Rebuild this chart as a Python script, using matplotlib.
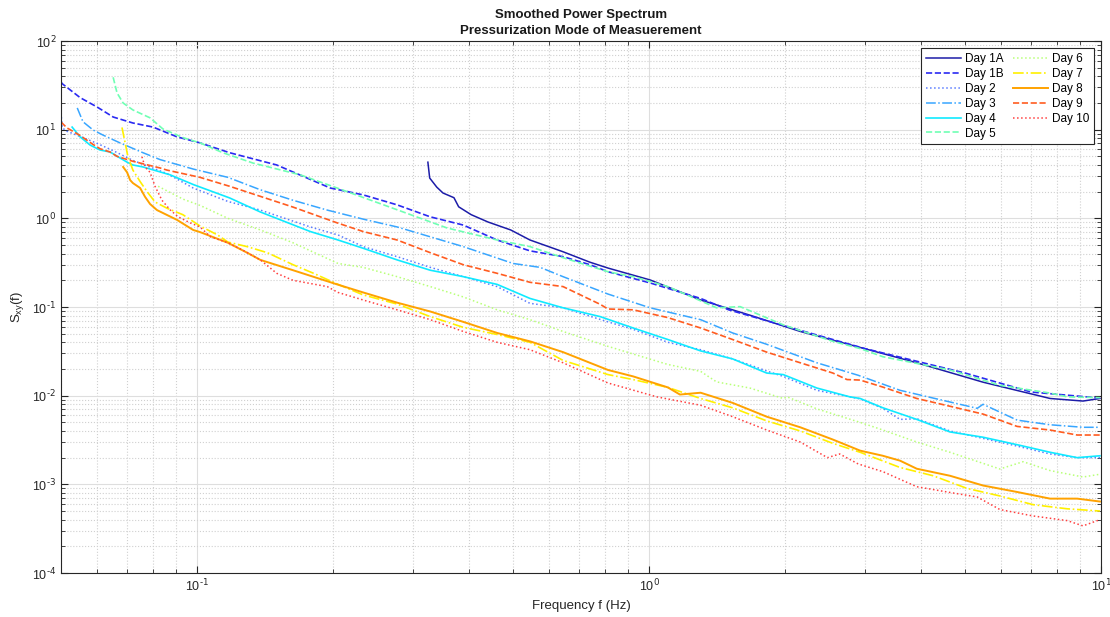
import math
import matplotlib.pyplot as plt
from matplotlib.ticker import LogLocator, NullFormatter, FuncFormatter

# values (frequency in Hz, smoothed power)
f_1a = [0.324, 0.327, 0.339, 0.350, 0.370, 0.379, 0.404, 0.440, 0.494, 0.545, 0.645, 0.740,
        0.811, 1.005, 1.30, 1.67, 2.16, 2.93, 3.91, 5.48, 7.71, 9.12, 9.94]
s_1a = [4.3, 2.85, 2.25, 1.93, 1.71, 1.35, 1.10, 0.91, 0.74, 0.57, 0.42, 0.32,
        0.275, 0.202, 0.12, 0.081, 0.053, 0.035, 0.0235, 0.0142, 0.0093, 0.0087, 0.0093]

f_1b = [0.05, 0.0503, 0.0551, 0.0601, 0.0652, 0.0721, 0.0799, 0.0903, 0.1015, 0.118, 0.150,
        0.197, 0.233, 0.277, 0.328, 0.388, 0.461, 0.545, 0.645, 0.740, 0.811, 1.005, 1.30,
        1.50, 2.0, 3.0, 5.0, 7.0, 9.94]
s_1b = [34.5, 33, 23, 18, 13.9, 11.9, 10.7, 8.3, 7.1, 5.5, 4.0,
        2.2, 1.84, 1.42, 1.04, 0.84, 0.57, 0.43, 0.37, 0.30, 0.25, 0.187, 0.125,
        0.093, 0.061, 0.034, 0.018, 0.011, 0.0094]

f_2 = [0.05, 0.0503, 0.0515, 0.0551, 0.0601, 0.0652, 0.0721, 0.0858, 0.098, 0.117, 0.138,
       0.178, 0.205, 0.233, 0.277, 0.328, 0.388, 0.461, 0.545, 0.645, 0.811, 0.922, 1.10,
       1.30, 1.53, 1.82, 1.98, 2.35, 2.93, 3.29, 3.59, 3.91, 4.63, 5.48, 6.52, 7.71, 8.85, 9.94]
s_2 = [15.4, 10.5, 9.6, 8.4, 7.0, 5.8, 4.5, 3.2, 2.2, 1.55, 1.24,
       0.80, 0.65, 0.48, 0.37, 0.28, 0.22, 0.17, 0.11, 0.098, 0.068, 0.056, 0.040,
       0.033, 0.026, 0.019, 0.0165, 0.0115, 0.0092, 0.0072, 0.0054, 0.0055, 0.0040, 0.0033,
       0.0027, 0.0022, 0.0020, 0.0020]

f_3 = [0.0543, 0.0559, 0.0589, 0.0619, 0.0675, 0.0759, 0.0828, 0.098, 0.117, 0.138, 0.163,
       0.194, 0.233, 0.277, 0.388, 0.50, 0.574, 0.645, 0.811, 1.005, 1.30, 1.53, 1.82, 2.35,
       2.90, 3.59, 4.25, 5.32, 5.48, 6.52, 7.71, 9.12, 9.94]
s_3 = [17.6, 12.3, 9.9, 8.7, 7.1, 5.5, 4.6, 3.6, 2.9, 2.1, 1.6,
       1.24, 0.98, 0.80, 0.48, 0.31, 0.28, 0.22, 0.14, 0.098, 0.072, 0.051, 0.038, 0.0235,
       0.017, 0.0115, 0.0094, 0.0072, 0.0080, 0.0053, 0.0047, 0.0044, 0.0044]

f_4 = [0.0529, 0.0551, 0.058, 0.061, 0.0642, 0.070, 0.0721, 0.0759, 0.0871, 0.0982, 0.118,
       0.138, 0.178, 0.205, 0.233, 0.277, 0.328, 0.388, 0.461, 0.545, 0.645, 0.779, 0.922,
       1.10, 1.30, 1.53, 1.82, 1.98, 2.35, 2.78, 2.93, 3.29, 3.91, 4.63, 5.48, 6.52, 7.71,
       8.85, 9.94]
s_4 = [10.7, 8.3, 6.7, 5.9, 5.6, 4.3, 4.0, 3.8, 3.1, 2.4, 1.7,
       1.18, 0.71, 0.57, 0.46, 0.34, 0.26, 0.22, 0.18, 0.125, 0.098, 0.078, 0.058,
       0.043, 0.032, 0.026, 0.018, 0.0173, 0.0122, 0.0097, 0.0093, 0.0073, 0.0054, 0.0039,
       0.0034, 0.0028, 0.0023, 0.0020, 0.0021]

f_5 = [0.0652, 0.0665, 0.0686, 0.0721, 0.0787, 0.084, 0.0933, 0.1015, 0.114, 0.133, 0.169,
       0.204, 0.277, 0.357, 0.461, 0.545, 0.645, 0.811, 0.922, 1.10, 1.41, 1.59, 1.98, 2.55,
       2.93, 3.29, 4.63, 5.97, 7.71, 8.41, 9.94]
s_5 = [39, 26, 20, 16.7, 13.6, 10.2, 8.1, 7.1, 5.5, 4.2, 3.1,
       2.2, 1.25, 0.78, 0.57, 0.48, 0.36, 0.25, 0.22, 0.17, 0.098, 0.101, 0.063, 0.041,
       0.034, 0.0275, 0.0195, 0.0131, 0.0107, 0.0097, 0.0095]

f_6 = [0.082, 0.093, 0.1015, 0.117, 0.138, 0.163, 0.205, 0.233, 0.277, 0.328, 0.388, 0.461,
       0.545, 0.645, 0.811, 0.922, 1.10, 1.30, 1.41, 1.67, 1.98, 2.02, 2.35, 2.93, 3.29, 3.91,
       4.63, 5.97, 6.72, 7.71, 9.12, 9.94]
s_6 = [2.3, 1.65, 1.40, 1.0, 0.74, 0.53, 0.31, 0.28, 0.22, 0.17, 0.13, 0.093,
       0.072, 0.053, 0.036, 0.0295, 0.0225, 0.0188, 0.0143, 0.0122, 0.0093, 0.0097, 0.0071,
       0.0050, 0.0041, 0.0030, 0.0023, 0.00149, 0.0018, 0.00143, 0.00121, 0.00130]

f_7 = [0.0682, 0.0693, 0.0703, 0.0721, 0.0748, 0.0775, 0.0807, 0.0858, 0.093, 0.1015, 0.111,
       0.117, 0.129, 0.143, 0.163, 0.181, 0.205, 0.233, 0.277, 0.328, 0.388, 0.461, 0.545,
       0.645, 0.811, 0.922, 1.10, 1.30, 1.53, 1.82, 2.16, 2.55, 2.93, 3.59, 4.25, 5.05, 5.97,
       7.07, 8.41, 9.94]
s_7 = [10.6, 7.1, 4.95, 3.5, 2.6, 2.0, 1.53, 1.30, 1.10, 0.82, 0.65,
       0.54, 0.48, 0.41, 0.30, 0.24, 0.18, 0.137, 0.108, 0.078, 0.059, 0.049, 0.040,
       0.025, 0.0173, 0.0152, 0.0124, 0.0093, 0.0073, 0.0052, 0.0040, 0.0029, 0.0023,
       0.00155, 0.00125, 0.0009, 0.00074, 0.00059, 0.00053, 0.0005]

f_8 = [0.0686, 0.070, 0.0711, 0.0721, 0.0748, 0.0767, 0.0787, 0.0815, 0.0903, 0.098, 0.1015,
       0.108, 0.117, 0.129, 0.138, 0.163, 0.204, 0.233, 0.277, 0.328, 0.388, 0.461, 0.545,
       0.645, 0.811, 0.922, 1.10, 1.17, 1.30, 1.53, 1.82, 2.16, 2.55, 2.93, 3.29, 3.59, 3.91,
       4.63, 5.48, 6.52, 7.71, 8.85, 9.94]
s_8 = [3.8, 3.3, 2.7, 2.5, 2.2, 1.75, 1.45, 1.24, 0.96, 0.74, 0.70,
       0.62, 0.53, 0.41, 0.34, 0.26, 0.18, 0.146, 0.112, 0.089, 0.068, 0.051, 0.041,
       0.031, 0.0195, 0.0165, 0.0124, 0.0103, 0.0108, 0.0083, 0.0058, 0.0044, 0.0032,
       0.0024, 0.0021, 0.00185, 0.0015, 0.00125, 0.00097, 0.00082, 0.00069, 0.00069, 0.00064]

f_9 = [0.05, 0.0515, 0.0551, 0.0589, 0.061, 0.0642, 0.0665, 0.0721, 0.0828, 0.0858, 0.1015,
       0.118, 0.163, 0.204, 0.233, 0.277, 0.328, 0.388, 0.461, 0.545, 0.645, 0.78, 0.811,
       0.922, 1.10, 1.30, 1.53, 1.82, 2.16, 2.55, 2.74, 2.93, 3.29, 3.91, 4.63, 5.48, 6.52,
       7.71, 8.85, 9.94]
s_9 = [12.2, 10.5, 8.6, 6.8, 6.1, 5.6, 5.0, 4.4, 3.7, 3.5, 2.9,
       2.3, 1.34, 0.89, 0.71, 0.57, 0.41, 0.30, 0.24, 0.19, 0.17, 0.107, 0.095,
       0.093, 0.076, 0.058, 0.043, 0.031, 0.0235, 0.018, 0.0152, 0.0150, 0.0125, 0.0093,
       0.0076, 0.0062, 0.0045, 0.0041, 0.0036, 0.0036]

f_10 = [0.0755, 0.0767, 0.0787, 0.0807, 0.0836, 0.0871, 0.0908, 0.0965, 0.1015, 0.107, 0.117,
        0.126, 0.138, 0.150, 0.163, 0.194, 0.205, 0.233, 0.277, 0.328, 0.388, 0.461, 0.545,
        0.645, 0.811, 1.04, 1.30, 1.53, 1.82, 2.16, 2.48, 2.64, 2.90, 3.29, 3.91, 4.63, 5.32,
        5.97, 7.07, 8.41, 9.12, 9.94]
s_10 = [4.95, 3.8, 3.3, 2.3, 1.6, 1.25, 1.04, 0.89, 0.80, 0.62, 0.53,
        0.44, 0.34, 0.24, 0.20, 0.17, 0.146, 0.12, 0.093, 0.072, 0.053, 0.040, 0.033,
        0.0235, 0.0139, 0.0097, 0.0078, 0.0058, 0.0041, 0.0030, 0.0020, 0.0022, 0.0017,
        0.00139, 0.00094, 0.00081, 0.00072, 0.00052, 0.00044, 0.00039, 0.00034, 0.00040]

labels = ["Day 1A", "Day 1B", "Day 2", "Day 3", "Day 4", "Day 5",
          "Day 6", "Day 7", "Day 8", "Day 9", "Day 10"]
freqs = [f_1a, f_1b, f_2, f_3, f_4, f_5, f_6, f_7, f_8, f_9, f_10]
specs = [s_1a, s_1b, s_2, s_3, s_4, s_5, s_6, s_7, s_8, s_9, s_10]
x_ticks = [0.1, 1, 10]
y_ticks = [1e-4, 1e-3, 1e-2, 1e-1, 1, 10, 100]

colors = ['#1c1ca8', '#2a2af2', '#5a7cff', '#38a6ff', '#10eaff', '#70ffb4',
          '#b8ff78', '#fff000', '#ffa200', '#ff5c20', '#ff4040']
styles = ['-', '--', ':', '-.', '-', '--', ':', '-.', '-', '--', ':']
widths = [1.1, 1.2, 1.1, 1.1, 1.2, 1.2, 1.1, 1.2, 1.4, 1.2, 1.1]

plt.rcParams['font.family'] = ['Liberation Sans', 'DejaVu Sans']
plt.rcParams['mathtext.default'] = 'regular'
plt.rcParams['axes.unicode_minus'] = False


def pow10(v, pos):
    return r'$10^{\text{%d}}$' % round(math.log10(v))


fig = plt.figure(figsize=(11.1, 6.17), dpi=100)
ax = fig.add_axes([0.055, 0.0713, 0.937, 0.8622])

for f, s, lab, c, ls, lw in zip(freqs, specs, labels, colors, styles, widths):
    ax.loglog(f, s, linestyle=ls, color=c, linewidth=lw, label=lab)

ax.set_xlim(0.05, 10)
ax.set_ylim(1e-4, 1e2)
ax.set_xticks(x_ticks)
ax.set_yticks(y_ticks)
ax.yaxis.set_minor_locator(LogLocator(base=10, subs=range(2, 10), numticks=30))
ax.xaxis.set_major_formatter(FuncFormatter(pow10))
ax.yaxis.set_major_formatter(FuncFormatter(pow10))
ax.yaxis.set_minor_formatter(NullFormatter())
ax.xaxis.set_minor_formatter(NullFormatter())
ax.set_xlim(0.05, 10)
ax.set_ylim(1e-4, 1e2)

ax.grid(which='major', color='#dedede', linestyle='-', linewidth=0.8)
ax.grid(which='minor', color='#d0d0d0', linestyle=':', linewidth=0.8)
ax.set_axisbelow(True)
ax.tick_params(which='both', direction='in', top=True, right=True, colors='#262626', labelsize=9)
ax.tick_params(which='major', length=5)
ax.tick_params(which='minor', length=3)
for sp in ax.spines.values():
    sp.set_color('#262626')

ax.set_title("Smoothed Power Spectrum\nPressurization Mode of Measuerement",
             fontsize=9.5, fontweight='bold', color='#1a1a1a', pad=5, linespacing=1.5)
ax.set_xlabel("Frequency f (Hz)", fontsize=9.5, color='#262626')
ax.set_ylabel("$S_{xy}(f)$", fontsize=9.5, color='#262626')

leg = ax.legend(ncol=2, loc='upper right', fontsize=8.5, handlelength=3.0, handletextpad=0.3,
                columnspacing=0.8, labelspacing=0.25, borderaxespad=0.6, fancybox=False,
                framealpha=1)
leg.get_frame().set_edgecolor('#262626')
leg.get_frame().set_linewidth(0.8)

plt.savefig("out.png", dpi=100)
